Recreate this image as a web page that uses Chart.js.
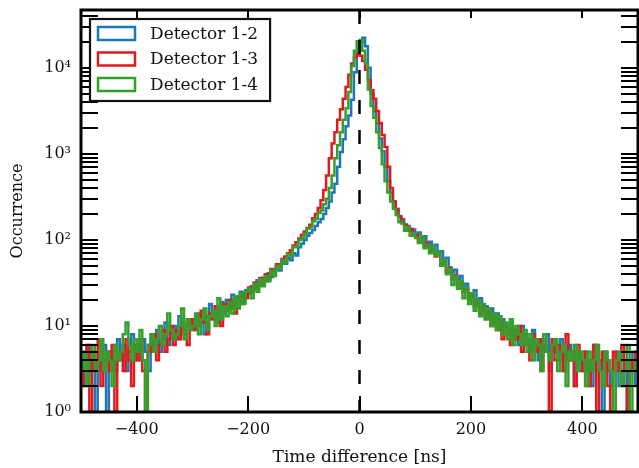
<!DOCTYPE html>
<html>
<head>
<meta charset="utf-8">
<script src="https://cdn.jsdelivr.net/npm/chart.js@4.4.1/dist/chart.umd.min.js"></script>
<style>
  html, body { margin: 0; padding: 0; background: #fff; }
  #wrap { width: 639px; height: 468px; }
</style>
</head>
<body>
<div id="wrap"><canvas id="chart"></canvas></div>
<script>
// Histogram bins: 5 ns wide, from -500 ns to 500 ns (left edges + final right edge)
const binEdges = Array.from({ length: 201 }, (_, i) => -500 + 5 * i);

// Counts per bin
const det12 = [
    4, 2, 6, 3, 5, 1, 4, 3, 6, 1, 5, 4, 3, 7, 4, 6, 3, 5, 8, 4,
    6, 4, 7, 5, 3, 8, 6, 9, 5, 7, 11, 6, 8, 10, 7, 13, 9, 8, 11, 10,
    12, 9, 14, 11, 8, 13, 18, 12, 15, 11, 19, 14, 20, 16, 23, 17, 21, 25, 19, 26,
    24, 29, 27, 34, 30, 36, 33, 41, 37, 45, 49, 44, 56, 53, 62, 58, 70, 66, 82, 90,
    100, 112, 120, 130, 145, 160, 175, 200, 235, 280, 355, 450, 710, 1050, 1480, 2100, 2800, 4260, 8900, 14800,
    20000, 22400, 17800, 10000, 5000, 3160, 2240, 1510, 1070, 710, 480, 355, 280, 230, 190, 175, 150, 145, 128, 132,
    118, 122, 98, 110, 86, 95, 78, 88, 70, 74, 58, 62, 48, 42, 45, 35, 38, 28, 31, 24,
    22, 26, 18, 21, 15, 17, 13, 16, 11, 14, 9, 12, 10, 8, 11, 7, 9, 6, 10, 8,
    7, 5, 9, 6, 4, 7, 5, 8, 3, 6, 5, 4, 7, 3, 5, 6, 4, 2, 5, 3,
    5, 3, 4, 2, 6, 3, 4, 1, 5, 3, 2, 4, 5, 2, 3, 4, 1, 3, 5, 2
];
const det13 = [
    2, 4, 6, 1, 5, 3, 7, 2, 4, 5, 3, 6, 1, 4, 5, 3, 7, 4, 2, 6,
    4, 7, 3, 1, 6, 5, 8, 4, 6, 9, 5, 7, 10, 6, 9, 7, 11, 8, 6, 12,
    9, 13, 10, 15, 11, 8, 14, 12, 17, 13, 10, 18, 15, 20, 16, 14, 22, 18, 24, 21,
    28, 24, 32, 28, 36, 31, 40, 35, 46, 42, 52, 50, 60, 64, 70, 76, 86, 94, 104, 115,
    125, 138, 150, 178, 200, 235, 290, 380, 560, 890, 1320, 1780, 2500, 3300, 4370, 6000, 8300, 11200, 13200, 14500,
    13800, 12000, 9500, 7200, 5500, 4370, 3160, 2290, 1660, 1200, 710, 400, 280, 224, 186, 158, 150, 128, 135, 112,
    115, 96, 104, 84, 92, 72, 80, 64, 68, 52, 56, 42, 47, 35, 39, 30, 32, 25, 27, 20,
    23, 17, 19, 14, 17, 12, 15, 10, 13, 9, 12, 7, 10, 8, 6, 9, 7, 10, 5, 8,
    6, 4, 8, 5, 7, 3, 6, 5, 1, 7, 4, 6, 5, 3, 8, 4, 5, 2, 6, 4,
    3, 5, 2, 4, 6, 1, 3, 5, 4, 2, 1, 5, 3, 4, 6, 2, 1, 4, 3, 5
];
const det14 = [
    3, 5, 2, 4, 6, 3, 4, 7, 3, 5, 4, 2, 6, 4, 5, 8, 11, 6, 4, 7,
    5, 9, 4, 1, 6, 8, 5, 7, 10, 6, 8, 14, 9, 7, 8, 10, 16, 7, 12, 9,
    10, 14, 8, 12, 16, 9, 13, 15, 10, 21, 12, 17, 13, 19, 14, 22, 16, 24, 18, 25,
    27, 21, 31, 25, 35, 29, 38, 33, 44, 38, 50, 47, 58, 55, 68, 66, 82, 84, 100, 104,
    118, 135, 140, 165, 175, 205, 220, 260, 300, 400, 560, 890, 1260, 1780, 2500, 3400, 5250, 10500, 15800, 20400,
    21000, 15800, 11200, 5600, 3600, 2630, 1780, 1170, 760, 480, 355, 280, 230, 195, 160, 155, 128, 140, 112, 118,
    105, 92, 110, 80, 88, 70, 82, 66, 72, 50, 58, 40, 46, 30, 38, 27, 33, 21, 28, 18,
    24, 15, 20, 13, 18, 12, 16, 10, 14, 9, 13, 8, 11, 7, 12, 6, 10, 8, 6, 9,
    5, 8, 4, 7, 6, 3, 8, 5, 4, 6, 7, 3, 5, 6, 2, 5, 4, 6, 3, 5,
    4, 2, 5, 3, 4, 6, 3, 2, 5, 4, 3, 1, 4, 5, 2, 3, 6, 1, 3, 4
];

// Axis ticks
const xTicks = [-400, -200, 0, 200, 400];
const yMajorTicks = [1, 10, 100, 1000, 10000];
const yMinorTicks = [
    2, 3, 4, 5, 6, 7, 8, 9,
    20, 30, 40, 50, 60, 70, 80, 90,
    200, 300, 400, 500, 600, 700, 800, 900,
    2000, 3000, 4000, 5000, 6000, 7000, 8000, 9000,
    20000, 30000, 40000
];
const superscripts = { 0: '\u2070', 1: '\u00b9', 2: '\u00b2', 3: '\u00b3', 4: '\u2074' };

const FONT = '"DejaVu Serif", "Liberation Serif", serif';

// Turn counts into step points (last bin repeated at the right edge)
function toSteps(counts) {
    const pts = counts.map((c, i) => ({ x: binEdges[i], y: c }));
    pts.push({ x: binEdges[counts.length], y: counts[counts.length - 1] });
    return pts;
}

function makeDataset(label, counts, color, order) {
    return {
        label: label,
        data: toSteps(counts),
        borderColor: color,
        backgroundColor: color,
        borderWidth: 2.5,
        pointRadius: 0,
        stepped: true,
        fill: false,
        order: order
    };
}

// Frame, inner ticks, zero line and boxed legend (matplotlib look)
const decorations = {
    id: 'decorations',
    afterDatasetsDraw(chart) {
        const { ctx, chartArea: a, scales: { x } } = chart;
        const x0 = x.getPixelForValue(0);
        ctx.save();
        ctx.strokeStyle = '#000';
        ctx.lineWidth = 2.5;
        ctx.setLineDash([14, 16]);
        ctx.beginPath();
        ctx.moveTo(x0, a.top);
        ctx.lineTo(x0, a.bottom);
        ctx.stroke();
        ctx.restore();
    },
    afterDraw(chart) {
        const { ctx, chartArea: a, scales: { x, y } } = chart;
        ctx.save();
        ctx.strokeStyle = '#000';
        ctx.lineWidth = 2;
        ctx.beginPath();
        yMajorTicks.concat(yMinorTicks).forEach(v => {
            const py = Math.round(y.getPixelForValue(v));
            ctx.moveTo(a.left, py); ctx.lineTo(a.left + 17, py);
            ctx.moveTo(a.right, py); ctx.lineTo(a.right - 17, py);
        });
        xTicks.forEach(v => {
            const px = Math.round(x.getPixelForValue(v));
            ctx.moveTo(px, a.bottom); ctx.lineTo(px, a.bottom - 16);
            ctx.moveTo(px, a.top); ctx.lineTo(px, a.top + 8);
        });
        ctx.stroke();

        ctx.lineWidth = 3;
        ctx.strokeRect(a.left, a.top, a.right - a.left, a.bottom - a.top);

        // legend
        const sets = chart.data.datasets;
        ctx.font = '17px ' + FONT;
        const textW = Math.max(...sets.map(d => ctx.measureText(d.label).width));
        const lx = 90, ly = 19, rowH = 25.5;
        const boxW = 60 + textW + 12, boxH = 82;
        ctx.fillStyle = '#fff';
        ctx.fillRect(lx, ly, boxW, boxH);
        ctx.lineWidth = 2.2;
        ctx.strokeStyle = '#111';
        ctx.strokeRect(lx, ly, boxW, boxH);
        ctx.textBaseline = 'middle';
        sets.forEach((d, i) => {
            const cy = ly + 14.5 + i * rowH;
            ctx.strokeStyle = d.borderColor;
            ctx.lineWidth = 2.5;
            ctx.strokeRect(lx + 8, cy - 6.5, 37, 13);
            ctx.fillStyle = '#111';
            ctx.fillText(d.label, lx + 60, cy + 1);
        });
        ctx.restore();
    }
};

new Chart(document.getElementById('chart'), {
    type: 'line',
    data: {
        datasets: [
            makeDataset('Detector 1-2', det12, '#1f78b4', 3),
            makeDataset('Detector 1-3', det13, '#e31a1c', 2),
            makeDataset('Detector 1-4', det14, '#33a02c', 1)
        ]
    },
    options: {
        responsive: true,
        maintainAspectRatio: false,
        animation: false,
        layout: { padding: { left: 0, right: 1, top: 10, bottom: 0 } },
        plugins: {
            legend: { display: false },
            tooltip: { enabled: false }
        },
        scales: {
            x: {
                type: 'linear',
                min: -500,
                max: 500,
                afterBuildTicks: (scale) => { scale.ticks = xTicks.map(v => ({ value: v })); },
                afterFit: (scale) => {
                    scale.height = 56;
                    scale.paddingLeft = 0;
                    scale.paddingRight = 0;
                },
                grid: { display: false, drawTicks: false },
                border: { display: false },
                ticks: {
                    color: '#111',
                    padding: 8,
                    maxRotation: 0,
                    font: { family: FONT, size: 16 },
                    callback: (v) => (v < 0 ? '\u2212' + Math.abs(v) : String(v))
                },
                title: {
                    display: true,
                    text: 'Time difference [ns]',
                    color: '#111',
                    font: { family: FONT, size: 17 },
                    padding: { top: 0, bottom: 0 }
                }
            },
            y: {
                type: 'logarithmic',
                min: 1,
                max: 47000,
                afterBuildTicks: (scale) => { scale.ticks = yMajorTicks.map(v => ({ value: v, major: true })); },
                afterFit: (scale) => {
                    scale.width = 81;
                    scale.paddingTop = 0;
                    scale.paddingBottom = 0;
                },
                grid: { display: false, drawTicks: false },
                border: { display: false },
                ticks: {
                    color: '#111',
                    padding: 10,
                    font: { family: FONT, size: 16 },
                    callback: (v) => '10' + superscripts[Math.round(Math.log10(v))]
                },
                title: {
                    display: true,
                    text: 'Occurrence',
                    color: '#111',
                    font: { family: FONT, size: 16 },
                    padding: { top: 8, bottom: 0 }
                }
            }
        }
    },
    plugins: [decorations]
});
</script>
</body>
</html>
